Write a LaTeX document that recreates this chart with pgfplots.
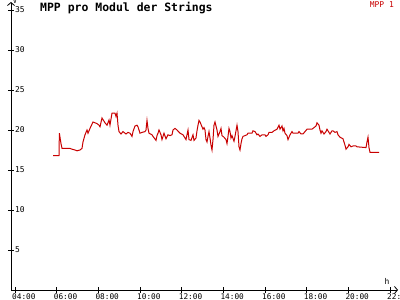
\documentclass[border=0pt]{standalone}
\usepackage{pgfplots}
\pgfplotsset{compat=1.18}
\usepackage{fontspec}
\setmainfont{DejaVu Sans Mono}
\usetikzlibrary{arrows.meta}
\definecolor{mppred}{RGB}{200,0,0}
\begin{document}
\begin{tikzpicture}
\path[use as bounding box] (-11bp,-10bp) rectangle (389bp,290bp);
\clip (-11bp,-10bp) rectangle (389bp,290bp);
\begin{axis}[
  scale only axis, width=387bp, height=288bp,
  at={(0,0)}, anchor=south west,
  xmin=3.808, xmax=22.384, ymin=0, ymax=36,
  axis lines=left,
  axis line style={line width=0.8bp, black, -{Straight Barb[length=3bp,width=7bp]}},
  tick align=center, major tick length=6bp,
  tick style={black, line width=0.8bp},
  xtick={4,6,8,10,12,14,16,18,20,22},
  xticklabels={04:00,06:00,08:00,10:00,12:00,14:00,16:00,18:00,20:00,22:00},
  ytick={5,10,15,20,25,30,35},
  /pgf/number format/assume math mode=true,
  xticklabel style={font=\fontsize{7.8}{7.8}\selectfont, anchor=north west, inner sep=0pt, xshift=-3bp, yshift=-0.3bp},
  yticklabel style={font=\fontsize{8}{8}\selectfont, anchor=west, inner sep=0pt, xshift=7bp},
]
\addplot[mppred, line width=1bp, sharp plot] coordinates {
(5.824,16.8) (6.112,16.8) (6.13,19.6) (6.208,18.3) (6.256,17.7) (6.64,17.7)
(6.736,17.6) (6.88,17.5) (6.976,17.4) (7.12,17.5) (7.216,17.7) (7.264,18.5)
(7.36,19.4) (7.456,20.0) (7.504,19.6) (7.6,20.2) (7.744,21.0) (7.936,20.8)
(8.032,20.6) (8.08,20.4) (8.176,21.5) (8.32,20.9) (8.416,20.6) (8.512,21.25)
(8.56,20.6) (8.656,22.1) (8.8,22.1) (8.848,21.7) (8.896,22.1) (8.944,20.6)
(8.992,19.8) (9.088,19.5) (9.184,19.8) (9.328,19.5) (9.424,19.7) (9.52,19.6)
(9.616,19.2) (9.664,19.8) (9.76,20.5) (9.856,20.6) (9.904,20.4) (10.0,19.6)
(10.096,19.7) (10.24,19.8) (10.288,20.0) (10.336,21.2) (10.384,20.2) (10.432,19.6)
(10.576,19.4) (10.624,19.2) (10.768,18.7) (10.816,19.3) (10.864,19.6) (10.912,20.0)
(11.008,19.4) (11.056,18.8) (11.152,19.6) (11.248,18.9) (11.344,19.4) (11.44,19.3)
(11.536,19.4) (11.584,20.0) (11.68,20.2) (11.776,20.0) (11.92,19.6) (12.064,19.4)
(12.208,18.8) (12.304,20.0) (12.352,18.8) (12.448,18.7) (12.544,19.4) (12.592,18.7)
(12.688,19.0) (12.736,19.9) (12.784,20.6) (12.832,21.2) (12.88,21.0) (12.976,20.4)
(13.024,20.1) (13.072,20.3) (13.12,20.0) (13.168,18.8) (13.216,18.5) (13.264,19.2)
(13.312,19.8) (13.36,19.0) (13.408,18.1) (13.456,17.5) (13.504,18.8) (13.552,20.6)
(13.6,21.0) (13.696,20.0) (13.744,19.2) (13.84,19.8) (13.888,20.2) (13.936,19.3)
(14.032,19.1) (14.128,18.8) (14.176,18.3) (14.224,19.2) (14.272,20.2) (14.32,19.8)
(14.368,19.0) (14.416,19.3) (14.512,18.6) (14.56,19.2) (14.656,20.6) (14.704,19.8)
(14.752,17.9) (14.8,17.5) (14.848,18.3) (14.896,18.9) (14.944,19.2) (15.136,19.4)
(15.184,19.6) (15.376,19.6) (15.424,19.9) (15.52,19.8) (15.616,19.4) (15.664,19.5)
(15.76,19.2) (15.856,19.4) (16.0,19.4) (16.048,19.2) (16.144,19.4) (16.192,19.7)
(16.336,19.7) (16.432,19.9) (16.576,20.1) (16.672,20.6) (16.72,20.1) (16.816,20.5)
(16.864,19.9) (16.912,20.2) (16.96,19.6) (17.056,19.3) (17.104,18.8) (17.2,19.4)
(17.296,19.8) (17.344,19.6) (17.584,19.6) (17.632,19.8) (17.728,19.5) (17.824,19.5)
(17.92,19.8) (18.016,20.1) (18.256,20.1) (18.304,20.2) (18.448,20.5) (18.496,20.9)
(18.592,20.6) (18.64,20.0) (18.688,19.6) (18.736,19.9) (18.832,19.5) (18.928,19.8)
(18.976,20.1) (19.072,19.7) (19.12,19.5) (19.216,19.9) (19.264,19.9) (19.36,19.7)
(19.456,19.8) (19.504,19.4) (19.6,19.1) (19.744,18.9) (19.792,18.5) (19.84,18.1)
(19.888,17.6) (19.984,17.9) (20.032,18.2) (20.128,17.9) (20.224,18.0) (20.368,18.0)
(20.416,17.9) (20.848,17.8) (20.896,18.5) (20.944,19.1) (20.992,17.8) (21.04,17.2)
(21.472,17.2)
};
\end{axis}
\node[anchor=west, inner sep=0pt, font=\bfseries\fontsize{11.5}{11.5}\selectfont] at (29bp,282bp) {MPP pro Modul der Strings};
\node[anchor=east, inner sep=0pt, text=mppred, font=\fontsize{8}{8}\selectfont] at (383bp,285bp) {MPP 1};
\node[inner sep=0pt, font=\fontsize{8}{8}\selectfont] at (376bp,9bp) {h};
\node[inner sep=0pt, font=\fontsize{7}{7}\selectfont] at (4bp,289bp) {V};
\end{tikzpicture}
\end{document}
